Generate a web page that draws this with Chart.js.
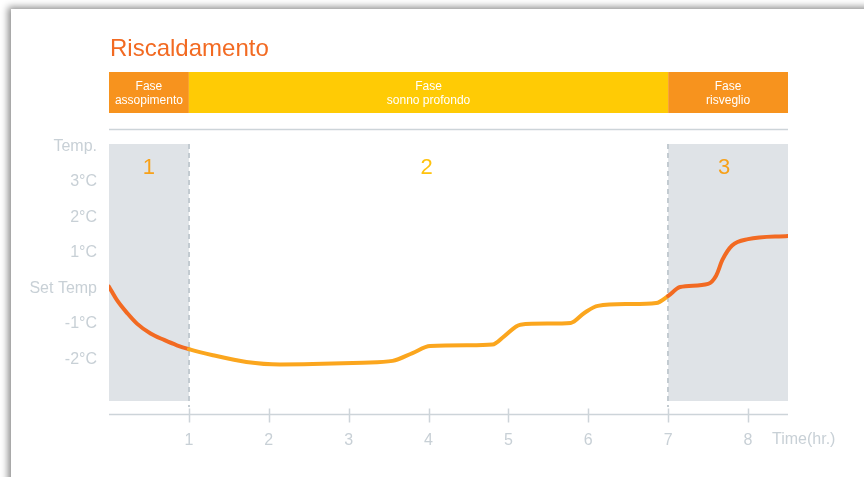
<!DOCTYPE html>
<html>
<head>
<meta charset="utf-8">
<script src="https://cdn.jsdelivr.net/npm/chart.js@4/dist/chart.umd.min.js"></script>
<style>
  html, body { margin: 0; padding: 0; background: #fff; }
  #wrap { position: relative; width: 864px; height: 477px; overflow: hidden; }
  #card { position: absolute; left: 11px; top: 9px; width: 900px; height: 520px; background: #fff;
          box-shadow: -3px -2px 7px rgba(0,0,0,0.45); }
  #grafica { position: absolute; left: 0; top: 0; }
</style>
</head>
<body>
<div id="wrap">
  <div id="card"></div>
  <canvas id="grafica" width="864" height="477"></canvas>
</div>
<script>
// ore e temperature
const ore = [0, 0.1, 0.23, 0.35, 0.52, 0.69, 0.85, 1.0, 1.3, 1.72, 2.14, 2.55, 3.18, 3.55, 3.8, 4.02, 4.5, 4.8, 4.95, 5.15, 5.5, 5.78, 5.95, 6.12, 6.5, 6.85, 7.0, 7.15, 7.5, 7.6, 7.68, 7.8, 8.0, 8.5];
const temperature = [0.04, -0.34, -0.71, -1.0, -1.28, -1.46, -1.61, -1.72, -1.89, -2.08, -2.15, -2.14, -2.1, -2.05, -1.83, -1.63, -1.61, -1.59, -1.35, -1.03, -1.0, -0.98, -0.7, -0.5, -0.45, -0.42, -0.22, 0.03, 0.12, 0.35, 0.8, 1.2, 1.38, 1.47];

const tickY = [-2, -1, 0, 1, 2, 3, 4];
const etichetteY = ['-2°C', '-1°C', 'Set Temp', '1°C', '2°C', '3°C', 'Temp.'];

// fasi: inizio, fine, titolo, numero
const fasi = [
    { da: 0, a: 1, testo: ['Fase', 'assopimento'], numero: '1' },
    { da: 1, a: 7, testo: ['Fase', 'sonno profondo'], numero: '2' },
    { da: 7, a: 8.5, testo: ['Fase', 'risveglio'], numero: '3' }
];

const ARANCIO = '#F26A22';
const GIALLO_LINEA = '#FBA61E';
const GRIGIO = '#C8D0D6';
const FONT = '"Liberation Sans", Arial, sans-serif';

const sfondoFasi = {
    id: 'sfondoFasi',
    beforeDatasetsDraw(chart) {
        const { ctx, chartArea, scales } = chart;
        const x = scales.x;
        ctx.save();
        // zone grigie fase 1 e 3
        ctx.fillStyle = '#DFE3E7';
        [fasi[0], fasi[2]].forEach(f => {
            const x0 = x.getPixelForValue(f.da), x1 = x.getPixelForValue(f.a);
            ctx.fillRect(x0, chartArea.top, x1 - x0, chartArea.bottom - chartArea.top);
        });
        // linee tratteggiate
        ctx.strokeStyle = '#C3CBD1';
        ctx.lineWidth = 2;
        ctx.setLineDash([5, 4]);
        [1, 7].forEach(v => {
            const px = Math.round(x.getPixelForValue(v));
            ctx.beginPath();
            ctx.moveTo(px, chartArea.top);
            ctx.lineTo(px, chartArea.bottom + 6);
            ctx.stroke();
        });
        ctx.setLineDash([]);
        // numeri delle fasi
        ctx.font = '22px ' + FONT;
        ctx.textAlign = 'center';
        ctx.textBaseline = 'middle';
        const spost = [0, -2, -4];
        fasi.forEach((f, i) => {
            ctx.fillStyle = i === 1 ? '#FFC20E' : '#F7A11A';
            ctx.fillText(f.numero, x.getPixelForValue((f.da + f.a) / 2) + spost[i], chartArea.top + 24);
        });
        ctx.restore();
    },
    afterDraw(chart) {
        const { ctx, chartArea, scales } = chart;
        const x = scales.x;
        ctx.save();
        // titolo
        ctx.fillStyle = ARANCIO;
        ctx.font = '24px ' + FONT;
        ctx.textBaseline = 'alphabetic';
        ctx.textAlign = 'left';
        ctx.fillText('Riscaldamento', 110, 56);
        // barra delle fasi
        fasi.forEach((f, i) => {
            const x0 = x.getPixelForValue(f.da), x1 = x.getPixelForValue(f.a);
            ctx.fillStyle = i === 1 ? '#FFCB05' : '#F7931E';
            ctx.fillRect(x0, 72, x1 - x0, 41);
            ctx.fillStyle = '#fff';
            ctx.font = '12px ' + FONT;
            ctx.textAlign = 'center';
            ctx.textBaseline = 'middle';
            ctx.fillText(f.testo[0], (x0 + x1) / 2, 87);
            ctx.fillText(f.testo[1], (x0 + x1) / 2, 101);
        });
        // linea sotto la barra
        ctx.strokeStyle = '#CDD4D9';
        ctx.lineWidth = 1.5;
        ctx.beginPath();
        ctx.moveTo(chartArea.left, 129.5);
        ctx.lineTo(chartArea.right, 129.5);
        ctx.stroke();
        // asse x
        const yAsse = 414.5;
        ctx.beginPath();
        ctx.moveTo(chartArea.left, yAsse);
        ctx.lineTo(chartArea.right, yAsse);
        for (let v = 1; v <= 8; v++) {
            const px = Math.round(x.getPixelForValue(v)) + 0.5;
            ctx.moveTo(px, yAsse - 6);
            ctx.lineTo(px, yAsse + 8);
        }
        ctx.stroke();
        ctx.fillStyle = GRIGIO;
        ctx.font = '16px ' + FONT;
        ctx.textAlign = 'left';
        ctx.textBaseline = 'middle';
        ctx.fillText('Time(hr.)', 772, 440);
        ctx.restore();
    }
};

const ctx = document.getElementById('grafica').getContext('2d');

new Chart(ctx, {
    type: 'line',
    data: {
        datasets: [{
            data: ore.map((o, i) => ({ x: o, y: temperature[i] })),
            borderColor: GIALLO_LINEA,
            borderWidth: 4,
            pointRadius: 0,
            cubicInterpolationMode: 'monotone',
            borderCapStyle: 'round',
            segment: {
                borderColor: c => (c.p1.parsed.x <= 1 || c.p0.parsed.x >= 7) ? ARANCIO : GIALLO_LINEA
            }
        }]
    },
    options: {
        responsive: false,
        animation: false,
        layout: { padding: { left: 0, right: 76, top: 144, bottom: 0 } },
        plugins: { legend: { display: false }, tooltip: { enabled: false } },
        scales: {
            x: {
                type: 'linear',
                min: 0,
                max: 8.5,
                grid: { display: false, drawTicks: false },
                border: { display: false },
                afterBuildTicks: s => { s.ticks = [1, 2, 3, 4, 5, 6, 7, 8].map(v => ({ value: v })); },
                ticks: {
                    autoSkip: false,
                    maxRotation: 0,
                    padding: 30,
                    color: GRIGIO,
                    font: { size: 16, family: FONT },
                    callback: v => String(v)
                },
                afterFit: s => { s.height = 76; }
            },
            y: {
                min: -3.18,
                max: 4.06,
                grid: { display: false, drawTicks: false },
                border: { display: false },
                afterBuildTicks: s => { s.ticks = tickY.map(v => ({ value: v })); },
                ticks: {
                    autoSkip: false,
                    padding: 12,
                    color: GRIGIO,
                    font: { size: 16, family: FONT },
                    callback: v => etichetteY[tickY.indexOf(v)]
                },
                afterFit: s => { s.width = 109; }
            }
        }
    },
    plugins: [sfondoFasi]
});
</script>
</body>
</html>
